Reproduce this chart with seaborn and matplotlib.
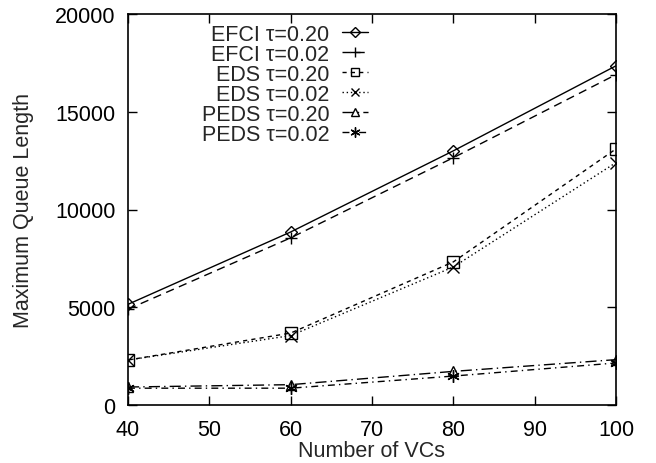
import matplotlib
matplotlib.use("Agg")
import matplotlib.pyplot as plt
import seaborn as sns
import pandas as pd

vcs = [40, 60, 80, 100]
efci_020 = [5150, 8850, 13000, 17350]
efci_002 = [4900, 8550, 12650, 16900]
eds_020 = [2300, 3680, 7320, 13100]
eds_002 = [2300, 3550, 7060, 12400]
peds_020 = [920, 1040, 1720, 2320]
peds_002 = [860, 860, 1480, 2150]

labels = ["EFCI \u03c4=0.20", "EFCI \u03c4=0.02", "EDS \u03c4=0.20",
          "EDS \u03c4=0.02", "PEDS \u03c4=0.20", "PEDS \u03c4=0.02"]
series = [efci_020, efci_002, eds_020, eds_002, peds_020, peds_002]

sns.set_style("ticks")
plt.rcParams['font.family'] = ['Liberation Sans', 'DejaVu Sans']

styles = [
    dict(linestyle='-', marker='D', markersize=6),
    dict(linestyle=(0, (6, 4)), marker='+', markersize=9),
    dict(linestyle=(0, (3, 3)), marker='s', markersize=8),
    dict(linestyle=(0, (1, 2)), marker='x', markersize=8),
    dict(linestyle=(0, (8, 3, 1, 3)), marker='^', markersize=7),
    dict(linestyle=(0, (5, 3, 1, 3)), marker=(6, 2, 0), markersize=9),
]

fs = 15.5

fig = plt.figure(figsize=(6.56, 4.64), dpi=100)
ax = fig.add_axes([128 / 656, 1 - 406 / 464, 488 / 656, 391 / 464])

for lab, vals, st in zip(labels, series, styles):
    df = pd.DataFrame({"x": vcs, "y": vals})
    sns.lineplot(data=df, x="x", y="y", ax=ax, color='black', linewidth=1,
                 markerfacecolor='none', markeredgecolor='black',
                 markeredgewidth=1, label=lab, **st)

ax.set_xlim(40, 100)
ax.set_ylim(0, 20000)
ax.set_xticks([40, 50, 60, 70, 80, 90, 100])
ax.set_yticks([0, 5000, 10000, 15000, 20000])
ax.tick_params(direction='in', top=True, right=True, labelsize=fs, length=6.5,
               width=1, colors='black')
ax.tick_params(axis='x', pad=10)
ax.tick_params(axis='y', pad=9)
for s in ax.spines.values():
    s.set_linewidth(1.2)
    s.set_color('black')
ax.set_xlabel("Number of VCs", fontsize=fs, labelpad=0)
ax.set_ylabel("Maximum Queue Length", fontsize=fs, labelpad=15)

leg = ax.legend(loc='upper right', bbox_to_anchor=(368 / 656, 1 - 25 / 464),
                bbox_transform=fig.transFigure, frameon=False, borderpad=0,
                borderaxespad=0, markerfirst=False, fontsize=fs,
                handlelength=1.2, handletextpad=0.6, labelspacing=-0.05)
for h in leg.legend_handles:
    h.set_markersize(h.get_markersize() * 0.8)

fig.savefig("out.png", dpi=100)
